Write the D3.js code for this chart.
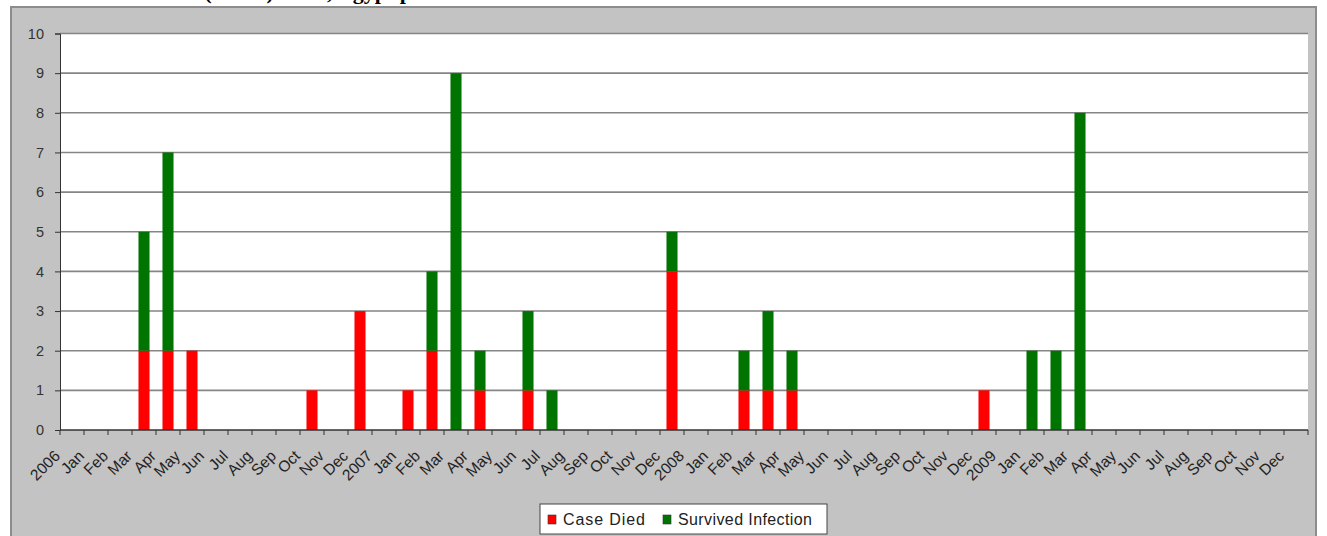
<!DOCTYPE html>
<html>
<head>
<meta charset="utf-8">
<script src="https://cdn.jsdelivr.net/npm/d3@7"></script>
<style>
  body { margin: 0; background: #fff; }
  svg { display: block; }
</style>
</head>
<body>
<div id="chart"></div>
<script>
// tick labels along the x axis: a year marker, then its months
const years = ["2006", "2007", "2008", "2009"];
const months = ["Jan", "Feb", "Mar", "Apr", "May", "Jun", "Jul", "Aug", "Sep", "Oct", "Nov", "Dec"];
const yTicks = [0, 1, 2, 3, 4, 5, 6, 7, 8, 9, 10];

// months that had cases, with counts per series
const caseMonths = ["2006-Mar", "2006-Apr", "2006-May", "2006-Oct", "2006-Dec",
  "2007-Jan", "2007-Feb", "2007-Mar", "2007-Apr", "2007-Jun", "2007-Jul", "2007-Dec",
  "2008-Feb", "2008-Mar", "2008-Apr", "2008-Dec",
  "2009-Jan", "2009-Feb", "2009-Mar"];
const died =     [2, 2, 2, 1, 3, 1, 2, 0, 1, 1, 0, 4, 1, 1, 1, 1, 0, 0, 0];
const survived = [3, 5, 0, 0, 0, 0, 2, 9, 1, 2, 1, 1, 1, 2, 1, 0, 2, 2, 8];

const seriesNames = ["Case Died", "Survived Infection"];
const seriesColors = ["#ff0000", "#007400"];

const width = 1327, height = 536;
const margin = {left: 60, right: 1308, top: 33.5, bottom: 430};

const categories = [];
years.forEach(y => {
  categories.push({key: y, label: y});
  months.forEach(m => categories.push({key: y + "-" + m, label: m}));
});

const rows = caseMonths.map((k, i) => ({key: k, died: died[i], survived: survived[i]}));
const stacked = d3.stack().keys(["died", "survived"])(rows);

const svg = d3.select("#chart").append("svg")
    .attr("width", width)
    .attr("height", height)
    .attr("font-family", "'Liberation Sans', Arial, sans-serif");

// page title, only its lower edge shows above the chart
svg.append("text")
    .attr("x", 8)
    .attr("y", -1)
    .attr("font-family", "'Liberation Serif', 'Times New Roman', serif")
    .attr("font-weight", "bold")
    .attr("font-size", 22)
    .text("Data Chart: Human (H5N1) cases, Egypt per month");

// chart frame
svg.append("rect")
    .attr("x", 11).attr("y", 7)
    .attr("width", 1305).attr("height", 540)
    .attr("fill", "#c3c3c3")
    .attr("stroke", "#8c8c8c")
    .attr("stroke-width", 2);

svg.append("rect")
    .attr("x", margin.left).attr("y", margin.top)
    .attr("width", margin.right - margin.left)
    .attr("height", margin.bottom - margin.top)
    .attr("fill", "#fff");

const x = d3.scaleBand()
    .domain(categories.map(d => d.key))
    .range([margin.left, margin.right])
    .paddingInner(0.54)
    .paddingOuter(0.27);

const y = d3.scaleLinear()
    .domain([0, 10])
    .range([margin.bottom, margin.top]);

const step = x.step();

// gridlines
svg.append("g")
    .selectAll("line")
    .data(yTicks.filter(d => d > 0))
    .join("line")
      .attr("x1", margin.left)
      .attr("x2", margin.right)
      .attr("y1", d => y(d))
      .attr("y2", d => y(d))
      .attr("stroke", "#858585")
      .attr("stroke-width", 1.6);

// bars
svg.append("g")
  .selectAll("g")
  .data(stacked)
  .join("g")
    .attr("fill", (d, i) => seriesColors[i])
  .selectAll("rect")
  .data(d => d.filter(p => p[1] > p[0]))
  .join("rect")
    .attr("x", d => x(d.data.key))
    .attr("width", x.bandwidth())
    .attr("y", d => y(d[1]))
    .attr("height", d => y(d[0]) - y(d[1]));

// y axis
const yAxis = svg.append("g")
    .attr("transform", `translate(${margin.left},0)`)
    .call(d3.axisLeft(y).tickValues(yTicks).tickSize(5).tickPadding(11));
yAxis.select(".domain").attr("stroke", "#333");
yAxis.selectAll(".tick line").attr("stroke", "#333");
yAxis.selectAll("text").attr("font-size", 14.5).attr("fill", "#333");

// x axis line and boundary ticks
svg.append("line")
    .attr("x1", margin.left).attr("x2", margin.right)
    .attr("y1", margin.bottom).attr("y2", margin.bottom)
    .attr("stroke", "#333").attr("stroke-width", 1.4);

svg.append("g")
  .selectAll("line")
  .data(d3.range(categories.length + 1))
  .join("line")
    .attr("x1", i => margin.left + i * step)
    .attr("x2", i => margin.left + i * step)
    .attr("y1", margin.bottom)
    .attr("y2", margin.bottom + 5)
    .attr("stroke", "#333");

svg.append("g")
  .selectAll("text")
  .data(categories)
  .join("text")
    .attr("transform", d => `translate(${x(d.key) + x.bandwidth() / 2 - 11},${margin.bottom + 27}) rotate(-45)`)
    .attr("text-anchor", "end")
    .attr("font-size", 15.5)
    .attr("fill", "#222")
    .text(d => d.label);

// legend
const legend = svg.append("g").attr("transform", "translate(540,504)");
legend.append("rect")
    .attr("width", 287).attr("height", 30)
    .attr("fill", "#fff")
    .attr("stroke", "#444");

const items = [{x: 8, tx: 23, len: 82}, {x: 123, tx: 138, len: 134}];
items.forEach((it, i) => {
  legend.append("rect")
      .attr("x", it.x).attr("y", 11)
      .attr("width", 8).attr("height", 9)
      .attr("fill", seriesColors[i])
      .attr("stroke", "#333").attr("stroke-width", 0.6);
  legend.append("text")
      .attr("x", it.tx).attr("y", 21)
      .attr("font-size", 16)
      .attr("fill", "#222")
      .attr("textLength", it.len)
      .attr("lengthAdjust", "spacing")
      .text(seriesNames[i]);
});
</script>
</body>
</html>
